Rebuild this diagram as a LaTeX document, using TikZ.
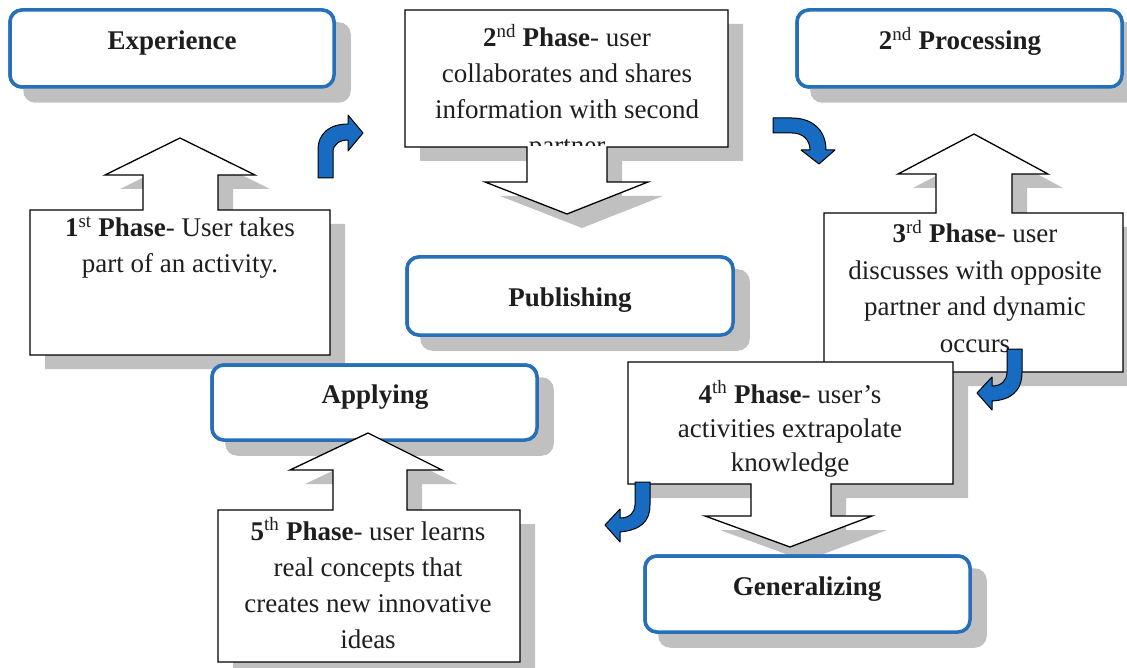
\documentclass[tikz,border=0pt]{standalone}
\usepackage{fontspec}
\setmainfont{Liberation Serif}
\definecolor{boxblue}{RGB}{38,112,186}
\definecolor{arrowblue}{RGB}{23,107,192}
\definecolor{shadowgray}{RGB}{192,192,192}
\definecolor{textcol}{RGB}{30,30,30}
\tikzset{
  rbox/.style={draw=boxblue, line width=3.5pt, fill=white, rounded corners=12pt, inner sep=0pt},
  rshadow/.style={fill=shadowgray, rounded corners=12pt},
  callout/.style={draw=black, line width=1.3pt, fill=white, line join=miter},
  cshadow/.style={fill=shadowgray, draw=none},
  bent/.style={draw=black, line width=1pt, fill=arrowblue, line join=round},
  txt/.style={inner sep=0pt, text=textcol, anchor=base},
  title/.style={txt, font=\fontsize{27}{33}\selectfont\bfseries},
}
\newcommand{\sh}[1]{\textsuperscript{\mdseries #1}}
\begin{document}
\begin{tikzpicture}[x=1pt,y=-1pt]
\useasboundingbox (0,0) rectangle (1127,668);
\clip (0,0) rectangle (1127,668);
% ---------- rounded title boxes (top) ----------
\node[rbox, minimum width=324pt, minimum height=77pt] (exp) at (172,48.5) {};
\fill[rshadow] ([shift={(15,14)}]exp.north west) rectangle ([shift={(15,14)}]exp.south east);
\node[rbox, minimum width=324pt, minimum height=77pt] (exp) at (172,48.5) {};
\node[title] (expt) at (172,50) {Experience};

\node[rbox, minimum width=325pt, minimum height=77pt] (proc) at (959.5,48.5) {};
\fill[rshadow] ([shift={(15,14)}]proc.north west) rectangle ([shift={(15,14)}]proc.south east);
\node[rbox, minimum width=325pt, minimum height=77pt] (proc) at (959.5,48.5) {};
\node[title] (proct) at (960,50) {2\sh{nd} Processing};

\node[rbox, minimum width=326pt, minimum height=78pt] (pub) at (570,296) {};
\fill[rshadow] ([shift={(15,14)}]pub.north west) rectangle ([shift={(15,14)}]pub.south east);
\node[rbox, minimum width=326pt, minimum height=78pt] (pub) at (570,296) {};
\node[title] (pubt) at (570,306) {Publishing};

% ---------- callout 1 ----------
\foreach \s/\st in {1/cshadow,0/callout}
  \path[\st, shift={(15*\s,14*\s)}] (30,210) -- (143,210) -- (143,175) -- (105,175) -- (180,138)
    -- (255,175) -- (218,175) -- (218,210) -- (330,210) -- (330,355) -- (30,355) -- cycle;
\node[txt, font=\fontsize{27}{36}\selectfont] (p1) at (180,237)
  {\begin{tabular}[t]{@{}c@{}}\textbf{1}\sh{st} \textbf{Phase}- User takes\\ part of an activity.\end{tabular}};

% ---------- callout 2 ----------
\foreach \s/\st in {1/cshadow,0/callout}
  \path[\st, shift={(15*\s,14*\s)}] (405,10) -- (728,10) -- (728,147) -- (607,147) -- (607,182)
    -- (648,182) -- (567,214) -- (485,182) -- (527,182) -- (527,147) -- (405,147) -- cycle;
\begin{scope}
  \clip (406,11) rectangle (727,146);
  \node[txt, font=\fontsize{27}{36}\selectfont] (p2) at (567,47)
    {\begin{tabular}[t]{@{}c@{}}\textbf{2}\sh{nd} \textbf{Phase}- user\\ collaborates and shares\\ information with second\\ partner\end{tabular}};
\end{scope}

% ---------- callout 3 ----------
\foreach \s/\st in {1/cshadow,0/callout}
  \path[\st, shift={(15*\s,14*\s)}] (824,213) -- (936,213) -- (936,174) -- (898,174) -- (974,134)
    -- (1048,174) -- (1012,174) -- (1012,213) -- (1123,213) -- (1123,372) -- (824,372) -- cycle;
\node[txt, font=\fontsize{27}{36.5}\selectfont] (p3) at (975,243)
  {\begin{tabular}[t]{@{}c@{}}\textbf{3}\sh{rd} \textbf{Phase}- user\\ discusses with opposite\\ partner and dynamic\\ occurs\end{tabular}};

% ---------- callout 4 ----------
\foreach \s/\st in {1/cshadow,0/callout}
  \path[\st, shift={(15*\s,14*\s)}] (628,362) -- (953,362) -- (953,484) -- (831,484) -- (831,516)
    -- (872,516) -- (790,547) -- (705,516) -- (751,516) -- (751,484) -- (628,484) -- cycle;
\node[txt, font=\fontsize{27}{34}\selectfont] (p4) at (790,403)
  {\begin{tabular}[t]{@{}c@{}}\textbf{4}\sh{th} \textbf{Phase}- user's\\ activities extrapolate\\ knowledge\end{tabular}};

% ---------- Generalizing ----------
\node[rbox, minimum width=325pt, minimum height=76pt] (gen) at (807.5,594) {};
\fill[rshadow] ([shift={(15,14)}]gen.north west) rectangle ([shift={(15,14)}]gen.south east);
\node[rbox, minimum width=325pt, minimum height=76pt] (gen) at (807.5,594) {};
\node[title] (gent) at (807,595) {Generalizing};

% ---------- Applying ----------
\node[rbox, minimum width=325pt, minimum height=75pt] (app) at (374.5,402.5) {};
\fill[rshadow] ([shift={(15,14)}]app.north west) rectangle ([shift={(15,14)}]app.south east);
\node[rbox, minimum width=325pt, minimum height=75pt] (app) at (374.5,402.5) {};
\node[title] (appt) at (375,403) {Applying};

% ---------- callout 5 ----------
\foreach \s/\st in {1/cshadow,0/callout}
  \path[\st, shift={(15*\s,14*\s)}] (218,510) -- (333,510) -- (333,470) -- (290,470) -- (368,433)
    -- (442,470) -- (407,470) -- (407,510) -- (520,510) -- (520,662) -- (218,662) -- cycle;
\node[txt, font=\fontsize{27}{36}\selectfont] (p5) at (368,540)
  {\begin{tabular}[t]{@{}c@{}}\textbf{5}\sh{th} \textbf{Phase}- user learns\\ real concepts that\\ creates new innovative\\ ideas\end{tabular}};

% ---------- blue bent arrows ----------
\path[bent] (318,178) -- (318,150) .. controls (318,133) and (330,124) .. (348,124) -- (348,115)
  -- (363,133) -- (348,151) -- (348,140) .. controls (340,140) and (333,144) .. (333,152) -- (333,178) -- cycle;
\path[bent] (773,118) -- (792,118) .. controls (812,118) and (826,130) .. (826,150) -- (835,150)
  -- (819,164) -- (801,150) -- (810,150) .. controls (810,140) and (803,133) .. (792,133) -- (773,133) -- cycle;
\path[bent] (1007,349) -- (1022,349) -- (1022,372) .. controls (1022,392) and (1010,400) .. (992,401)
  -- (992,410) -- (977,393) -- (992,377) -- (992,386) .. controls (1002,386) and (1007,380) .. (1007,372) -- cycle;
\path[bent] (635,482) -- (650,482) -- (650,505) .. controls (650,522) and (640,530) .. (620,532)
  -- (620,542) -- (605,525) -- (620,509) -- (620,518) .. controls (630,518) and (635,512) .. (635,505) -- cycle;
\end{tikzpicture}
\end{document}
